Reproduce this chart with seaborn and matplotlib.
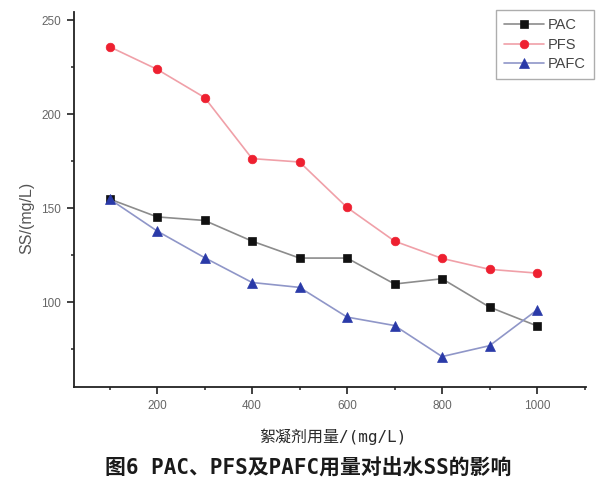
import matplotlib
matplotlib.use("Agg")
import matplotlib.pyplot as plt
from matplotlib.ticker import MultipleLocator
import seaborn as sns
import pandas as pd

# Flocculant dosage (mg/L)
dosage = [100, 200, 300, 400, 500, 600, 700, 800, 900, 1000]
# Effluent SS (mg/L) for each flocculant
ss_pac = [155, 145.5, 143.6, 132.6, 123.6, 123.6, 109.8, 112.6, 97.5, 87.5]
ss_pfs = [236, 224, 209, 176.5, 174.7, 150.5, 132.6, 123.4, 117.6, 115.6]
ss_pafc = [155, 138, 123.8, 110.6, 108, 92.2, 87.7, 71.2, 77, 96]

series_names = ["PAC", "PFS", "PAFC"]
series_values = [ss_pac, ss_pfs, ss_pafc]

df = pd.DataFrame({
    "dosage": dosage * 3,
    "ss": ss_pac + ss_pfs + ss_pafc,
    "agent": sum([[n] * len(dosage) for n in series_names], []),
})

sns.set_theme(style="white")
plt.rcParams["font.family"] = ["Liberation Sans", "Noto Sans CJK SC", "DejaVu Sans"]

styles = {
    "PAC": dict(line="#8c8c8c", face="#111111", marker="s", ms=5.2),
    "PFS": dict(line="#f0a0a8", face="#ee2030", marker="o", ms=6.2),
    "PAFC": dict(line="#8f96c8", face="#2a3aa8", marker="^", ms=6.6),
}

fig = plt.figure(figsize=(5.98, 4.79), dpi=100)
ax = fig.add_axes([0.1237, 0.192, 0.857, 0.783])

for name in series_names:
    st = styles[name]
    sns.lineplot(
        data=df[df["agent"] == name], x="dosage", y="ss", ax=ax,
        color=st["line"], linewidth=1.2, marker=st["marker"],
        markersize=st["ms"], markerfacecolor=st["face"],
        markeredgecolor=st["face"], markeredgewidth=0.5,
        label=name, legend=False,
    )

ax.set_xlim(25, 1104)
ax.set_ylim(55, 254.5)
ax.xaxis.set_major_locator(MultipleLocator(200))
ax.xaxis.set_minor_locator(MultipleLocator(100))
ax.yaxis.set_major_locator(MultipleLocator(50))
ax.yaxis.set_minor_locator(MultipleLocator(25))

for side in ["top", "right"]:
    ax.spines[side].set_visible(False)
for side in ["left", "bottom"]:
    ax.spines[side].set_color("#222222")
    ax.spines[side].set_linewidth(1.3)

ax.tick_params(axis="both", which="major", direction="out", length=5,
               width=1.3, color="#333333", labelsize=8.5, labelcolor="#666666",
               left=True, bottom=True, pad=4.5)
ax.tick_params(axis="both", which="minor", direction="out", length=2.5,
               width=1.2, color="#333333", left=True, bottom=True)
ax.set_xticks([200, 400, 600, 800, 1000])
ax.set_xticklabels(["200", "400", "600", "800", "1000"])

ax.set_xlabel("")
ax.set_ylabel("")
fig.text(0.044, 0.545, "SS/(mg/L)", rotation=90, ha="center", va="center",
         fontsize=11.5, color="#555555")
fig.text(0.557, 0.088, "絮凝剂用量/(mg/L)", ha="center", va="center",
         fontsize=11.5, color="#2a2a2a",
         family=["DejaVu Sans Mono", "Noto Sans CJK SC"])
fig.text(0.516, 0.023, "图6 PAC、PFS及PAFC用量对出水SS的影响", ha="center",
         va="center", fontsize=15, fontweight="bold", color="#1a1a1a",
         family=["DejaVu Sans Mono", "Noto Sans CJK SC"])

leg = ax.legend(loc="upper right", bbox_to_anchor=(0.993, 0.979),
                bbox_transform=fig.transFigure, fontsize=10.5,
                frameon=True, fancybox=False, handlelength=2.7,
                handletextpad=0.3, borderpad=0.55, labelspacing=0.38,
                borderaxespad=0)
leg.get_frame().set_edgecolor("#999999")
leg.get_frame().set_linewidth(1.0)
for t in leg.get_texts():
    t.set_color("#444444")

fig.savefig("out.png", dpi=100)
